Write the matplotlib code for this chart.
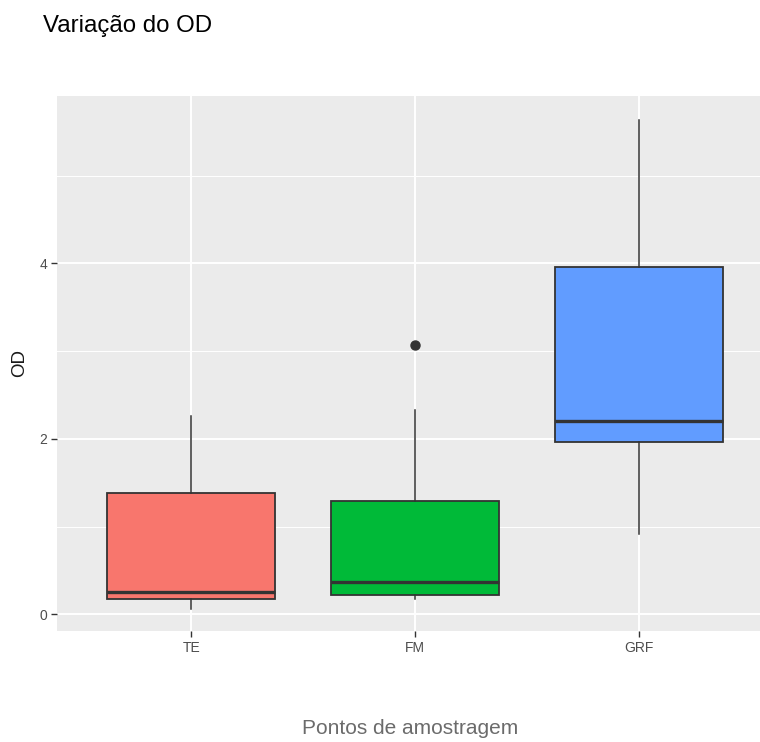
import matplotlib.pyplot as plt
from matplotlib.ticker import MultipleLocator

plt.rcParams['font.family'] = ['Liberation Sans', 'DejaVu Sans']

pontos = ["TE", "FM", "GRF"]
cores = ["#F8766D", "#00BA38", "#619CFF"]
q1 = [0.18, 0.225, 1.96]
mediana = [0.26, 0.37, 2.20]
q3 = [1.385, 1.29, 3.96]
whisk_lo = [0.057, 0.17, 0.92]
whisk_hi = [2.26, 2.325, 5.63]
outliers = [[], [3.07], []]

stats = []
for i, nome in enumerate(pontos):
    stats.append({
        "label": nome,
        "q1": q1[i], "med": mediana[i], "q3": q3[i],
        "whislo": whisk_lo[i], "whishi": whisk_hi[i],
        "fliers": outliers[i],
    })

fig = plt.figure(figsize=(7.6, 7.42), dpi=100)
ax = fig.add_axes([57 / 760, 1 - 631 / 742, 716 / 760, 535.3 / 742])
ax.set_facecolor("#EBEBEB")

bp = ax.bxp(stats, positions=[1, 2, 3], widths=0.75, patch_artist=True,
            showcaps=False,
            boxprops=dict(edgecolor="#333333", linewidth=1.3),
            medianprops=dict(color="#333333", linewidth=2.4),
            whiskerprops=dict(color="#333333", linewidth=1.1),
            flierprops=dict(marker="o", markersize=6.5, markerfacecolor="#333333",
                            markeredgecolor="#333333"),
            zorder=3)
for caixa, cor in zip(bp["boxes"], cores):
    caixa.set_facecolor(cor)

ax.set_xlim(0.4, 3.6)
ax.set_ylim(-0.19, 5.91)
ax.yaxis.set_major_locator(MultipleLocator(2))
ax.yaxis.set_minor_locator(MultipleLocator(1))
ax.set_xticks([1, 2, 3])
ax.set_xticklabels(pontos)

ax.grid(which="major", color="white", linewidth=1.4, zorder=0)
ax.grid(which="minor", axis="y", color="white", linewidth=0.7, zorder=0)
ax.set_axisbelow(True)
for s in ax.spines.values():
    s.set_visible(False)

ax.tick_params(axis="both", which="major", length=4, width=1, color="#333333",
               labelcolor="#4D4D4D", labelsize=10, pad=3)
ax.tick_params(axis="y", which="minor", length=0)

ax.set_ylabel("OD", fontsize=13.5, color="#1a1a1a", labelpad=8)
fig.text(410 / 760, 1 - 728 / 742, "Pontos de amostragem", fontsize=15,
         color="#6b6b6b", ha="center", va="center")
fig.text(43 / 760, 1 - 26 / 742, "Variação do OD", fontsize=17.3,
         color="black", ha="left", va="center")

fig.savefig("out.png", dpi=100)
